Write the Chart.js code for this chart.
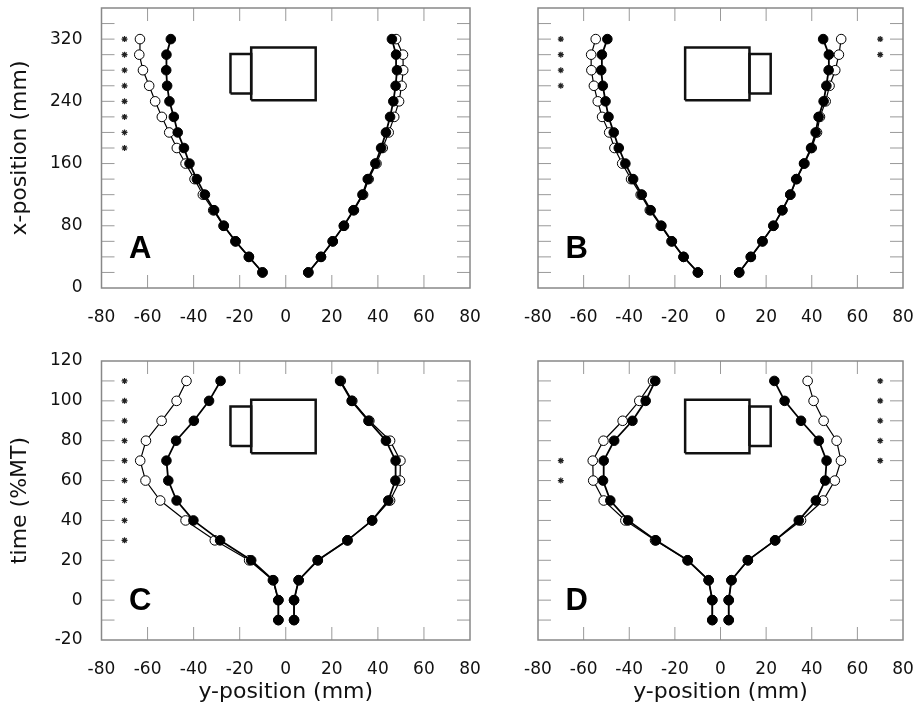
<!DOCTYPE html>
<html lang="en">
<head>
<meta charset="UTF-8">
<title>Hand path profiles</title>
<script src="https://cdn.jsdelivr.net/npm/chart.js"></script>
<style>
  body { margin: 0; background: #fff; width: 917px; height: 712px; position: relative; overflow: hidden; }
  .panel { position: absolute; }
</style>
</head>
<body>
<div class="panel" id="wrapA" style="left:7px;top:0px;width:475px;height:328px"><canvas id="chartA"></canvas></div>
<div class="panel" id="wrapB" style="left:518px;top:0px;width:397px;height:328px"><canvas id="chartB"></canvas></div>
<div class="panel" id="wrapC" style="left:7px;top:340px;width:475px;height:372px"><canvas id="chartC"></canvas></div>
<div class="panel" id="wrapD" style="left:518px;top:340px;width:397px;height:372px"><canvas id="chartD"></canvas></div>

<script>
// y values (x-position in mm, top row; time in %MT, bottom row)
var posY = [20, 40, 60, 80, 100, 120, 140, 160, 180, 200, 220, 240, 260, 280, 300, 320];
var timeY = [-10, 0, 10, 20, 30, 40, 50, 60, 70, 80, 90, 100, 110];

// Panel A
var aLeftFilled  = [-10.1, -16.0, -21.8, -26.9, -31.1, -35.1, -38.6, -41.8, -44.2, -46.9, -48.6, -50.5, -51.5, -51.9, -51.8, -49.9];
var aLeftOpen    = [-10.1, -16.0, -21.8, -27.0, -31.5, -36.0, -39.6, -43.5, -47.3, -50.6, -53.8, -56.7, -59.3, -62.0, -63.6, -63.3];
var aRightFilled = [9.8, 15.3, 20.4, 25.2, 29.4, 33.3, 35.6, 38.9, 41.4, 43.5, 45.3, 46.7, 47.7, 48.3, 47.9, 46.1];
var aRightOpen   = [9.8, 15.3, 20.4, 25.3, 29.6, 33.6, 36.0, 39.4, 42.1, 44.7, 47.1, 49.2, 50.3, 51.0, 50.9, 47.9];
var aStarsLeft   = [180, 200, 220, 240, 260, 280, 300, 320];
var aStarsRight  = [];

// Panel B
var bLeftFilled  = [-9.9, -16.2, -21.3, -25.9, -30.6, -34.5, -38.3, -41.7, -44.6, -46.8, -49.1, -50.4, -51.6, -52.3, -52.0, -49.6];
var bLeftOpen    = [-9.9, -16.2, -21.5, -26.2, -31.0, -35.0, -39.2, -43.1, -46.5, -48.8, -51.9, -53.8, -55.5, -56.6, -56.7, -54.7];
var bRightFilled = [8.2, 13.3, 18.4, 23.2, 27.1, 30.6, 33.2, 36.6, 39.7, 41.7, 43.0, 45.2, 46.4, 47.4, 47.5, 45.0];
var bRightOpen   = [8.2, 13.3, 18.4, 23.2, 27.1, 30.6, 33.4, 36.8, 40.0, 42.3, 43.6, 46.1, 47.8, 50.3, 51.9, 52.9];
var bStarsLeft   = [260, 280, 300, 320];
var bStarsRight  = [300, 320];

// Panel C
var cLeftFilled  = [-3.2, -3.2, -5.4, -15.0, -28.5, -40.1, -47.4, -51.0, -51.8, -47.6, -39.9, -33.3, -28.3];
var cLeftOpen    = [-3.2, -3.2, -5.6, -15.9, -30.8, -43.5, -54.5, -60.9, -63.2, -60.7, -53.9, -47.4, -43.1];
var cRightFilled = [3.6, 3.6, 5.6, 13.9, 26.8, 37.5, 44.5, 47.6, 47.7, 43.5, 35.9, 28.6, 23.6];
var cRightOpen   = [3.6, 3.6, 5.6, 13.9, 26.8, 37.5, 45.3, 49.6, 49.8, 45.3, 36.3, 28.9, 23.9];
var cStarsLeft   = [30, 40, 50, 60, 70, 80, 90, 100, 110];
var cStarsRight  = [];

// Panel D
var dLeftFilled  = [-3.6, -3.6, -5.2, -14.4, -28.3, -40.5, -48.3, -51.5, -51.2, -46.6, -38.6, -32.8, -28.6];
var dLeftOpen    = [-3.6, -3.6, -5.2, -14.4, -28.7, -41.7, -51.2, -55.8, -56.0, -51.3, -42.9, -35.6, -29.6];
var dRightFilled = [3.6, 3.6, 4.8, 12.0, 23.9, 34.3, 41.8, 45.9, 46.5, 43.1, 35.3, 28.1, 23.6];
var dRightOpen   = [3.6, 3.6, 4.8, 12.0, 24.0, 35.3, 45.0, 50.1, 52.8, 50.9, 45.2, 40.8, 38.2];
var dStarsLeft   = [60, 70];
var dStarsRight  = [70, 80, 90, 100, 110];

var starLeftX = -70, starRightX = 70;

// the hand/object sketch, in data units
var bigBoxLeftX = [-15, 13];      // A, C
var smallBoxLeftX = [-24, -15];
var bigBoxRightX = [-15.5, 12.7]; // B, D
var smallBoxRightX = [12.7, 22];
var bigBoxPosY = [241.5, 309.3], smallBoxPosY = [250.1, 300.7];
var bigBoxTimeY = [73.7, 100.5], smallBoxTimeY = [77.4, 97.2];

var xTicks = [-80, -60, -40, -20, 0, 20, 40, 60, 80];

Chart.defaults.font.family = 'DejaVu Sans';
Chart.defaults.font.size = 17;
Chart.defaults.color = '#111';

function pts(xs, ys) {
    return xs.map(function(v, i) { return {x: v, y: ys[i]}; });
}
function box(xr, yr) {
    return [{x: xr[0], y: yr[0]}, {x: xr[1], y: yr[0]}, {x: xr[1], y: yr[1]},
            {x: xr[0], y: yr[1]}, {x: xr[0], y: yr[0]}];
}

// frame with inward ticks, plus the panel letter
var framePlugin = {
    id: 'frame',
    beforeDatasetsDraw: function(chart, args, opts) {
        var ctx = chart.ctx, a = chart.chartArea, x = chart.scales.x, y = chart.scales.y;
        ctx.save();
        ctx.strokeStyle = '#999';
        ctx.lineWidth = 1;
        ctx.beginPath();
        x.ticks.forEach(function(t) {
            if (t.value <= x.min || t.value >= x.max) return;
            var p = x.getPixelForValue(t.value);
            ctx.moveTo(p, a.bottom); ctx.lineTo(p, a.bottom - 13);
            ctx.moveTo(p, a.top); ctx.lineTo(p, a.top + 13);
        });
        y.ticks.forEach(function(t) {
            if (t.value <= y.min || t.value >= y.max) return;
            var p = y.getPixelForValue(t.value);
            ctx.moveTo(a.left, p); ctx.lineTo(a.left + 13, p);
            ctx.moveTo(a.right, p); ctx.lineTo(a.right - 13, p);
        });
        ctx.stroke();
        ctx.strokeStyle = '#888';
        ctx.lineWidth = 1.5;
        ctx.strokeRect(a.left, a.top, a.right - a.left, a.bottom - a.top);
        ctx.fillStyle = '#000';
        ctx.font = 'bold 31px "Liberation Sans"';
        ctx.textBaseline = 'alphabetic';
        ctx.fillText(opts.letter, a.left + 27.5, a.bottom - 30);
        ctx.restore();
    }
};

function makePanel(id, p) {
    var datasets = [
        {data: pts(p.leftFilled, p.ys), backgroundColor: '#000', borderColor: '#000', borderWidth: 1.8, pointBorderWidth: 1},
        {data: pts(p.rightFilled, p.ys), backgroundColor: '#000', borderColor: '#000', borderWidth: 1.8, pointBorderWidth: 1},
        {data: pts(p.leftOpen, p.ys), backgroundColor: '#fff', borderColor: '#000', borderWidth: 1.2, pointBorderWidth: 1},
        {data: pts(p.rightOpen, p.ys), backgroundColor: '#fff', borderColor: '#000', borderWidth: 1.2, pointBorderWidth: 1}
    ];
    datasets.forEach(function(d) { d.showLine = true; d.pointRadius = 4.8; });
    p.boxes.forEach(function(b) {
        datasets.push({data: box(b[0], b[1]), showLine: true, pointRadius: 0, borderColor: '#111', borderWidth: 2.5});
    });
    datasets.push({data: p.starsLeft.map(function(v) { return {x: starLeftX, y: v}; }),
        pointStyle: 'star', pointRadius: 3, borderColor: '#222', pointBorderWidth: 1.2, showLine: false});
    datasets.push({data: p.starsRight.map(function(v) { return {x: starRightX, y: v}; }),
        pointStyle: 'star', pointRadius: 3, borderColor: '#222', pointBorderWidth: 1.2, showLine: false});

    return new Chart(document.getElementById(id), {
        type: 'scatter',
        data: {datasets: datasets},
        plugins: [framePlugin],
        options: {
            responsive: true,
            maintainAspectRatio: false,
            animation: false,
            events: [],
            layout: {padding: {top: p.padTop, right: 12, left: 0, bottom: 0}},
            plugins: {legend: {display: false}, tooltip: {enabled: false}, frame: {letter: p.letter}},
            scales: {
                x: {
                    type: 'linear', min: -80, max: 80,
                    afterBuildTicks: function(s) { s.ticks = xTicks.map(function(v) { return {value: v}; }); },
                    grid: {display: false}, border: {display: false},
                    ticks: {padding: 11, maxRotation: 0, autoSkip: false},
                    title: {display: !!p.xTitle, text: p.xTitle || '', font: {size: 22}, color: '#111', padding: {top: 0, bottom: 6.8}},
                    afterFit: function(s) { s.height = p.xHeight; s.paddingLeft = 0; s.paddingRight = 0; }
                },
                y: {
                    type: 'linear', min: p.yMin, max: p.yMax,
                    afterBuildTicks: function(s) { s.ticks = p.yTicks.map(function(v) { return {value: v}; }); },
                    grid: {display: false}, border: {display: false},
                    ticks: {display: p.showYLabels, padding: 11, autoSkip: false,
                        callback: function(v) { return v % p.yLabelStep === 0 ? v : ''; }},
                    title: {display: !!p.yTitle, text: p.yTitle || '', font: {size: 22}, color: '#111', padding: 0},
                    afterFit: function(s) { s.width = p.yWidth; s.paddingTop = 0; s.paddingBottom = 0; }
                }
            }
        }
    });
}

var posTicks = [0, 20, 40, 60, 80, 100, 120, 140, 160, 180, 200, 220, 240, 260, 280, 300, 320, 340, 360];
var timeTicks = [-20, -10, 0, 10, 20, 30, 40, 50, 60, 70, 80, 90, 100, 110, 120];

makePanel('chartA', {
    ys: posY, leftFilled: aLeftFilled, leftOpen: aLeftOpen, rightFilled: aRightFilled, rightOpen: aRightOpen,
    starsLeft: aStarsLeft, starsRight: aStarsRight,
    boxes: [[bigBoxLeftX, bigBoxPosY], [smallBoxLeftX, smallBoxPosY]],
    letter: 'A', yMin: 0, yMax: 360, yTicks: posTicks, yLabelStep: 80, showYLabels: true,
    yTitle: 'x-position (mm)', xTitle: null, yWidth: 94.5, xHeight: 40, padTop: 8
});
makePanel('chartB', {
    ys: posY, leftFilled: bLeftFilled, leftOpen: bLeftOpen, rightFilled: bRightFilled, rightOpen: bRightOpen,
    starsLeft: bStarsLeft, starsRight: bStarsRight,
    boxes: [[bigBoxRightX, bigBoxPosY], [smallBoxRightX, smallBoxPosY]],
    letter: 'B', yMin: 0, yMax: 360, yTicks: posTicks, yLabelStep: 80, showYLabels: false,
    yTitle: null, xTitle: null, yWidth: 20, xHeight: 40, padTop: 8
});
makePanel('chartC', {
    ys: timeY, leftFilled: cLeftFilled, leftOpen: cLeftOpen, rightFilled: cRightFilled, rightOpen: cRightOpen,
    starsLeft: cStarsLeft, starsRight: cStarsRight,
    boxes: [[bigBoxLeftX, bigBoxTimeY], [smallBoxLeftX, smallBoxTimeY]],
    letter: 'C', yMin: -20, yMax: 120, yTicks: timeTicks, yLabelStep: 20, showYLabels: true,
    yTitle: 'time (%MT)', xTitle: 'y-position (mm)', yWidth: 94.5, xHeight: 72, padTop: 21
});
makePanel('chartD', {
    ys: timeY, leftFilled: dLeftFilled, leftOpen: dLeftOpen, rightFilled: dRightFilled, rightOpen: dRightOpen,
    starsLeft: dStarsLeft, starsRight: dStarsRight,
    boxes: [[bigBoxRightX, bigBoxTimeY], [smallBoxRightX, smallBoxTimeY]],
    letter: 'D', yMin: -20, yMax: 120, yTicks: timeTicks, yLabelStep: 20, showYLabels: false,
    yTitle: null, xTitle: 'y-position (mm)', yWidth: 20, xHeight: 72, padTop: 21
});
</script>
</body>
</html>
